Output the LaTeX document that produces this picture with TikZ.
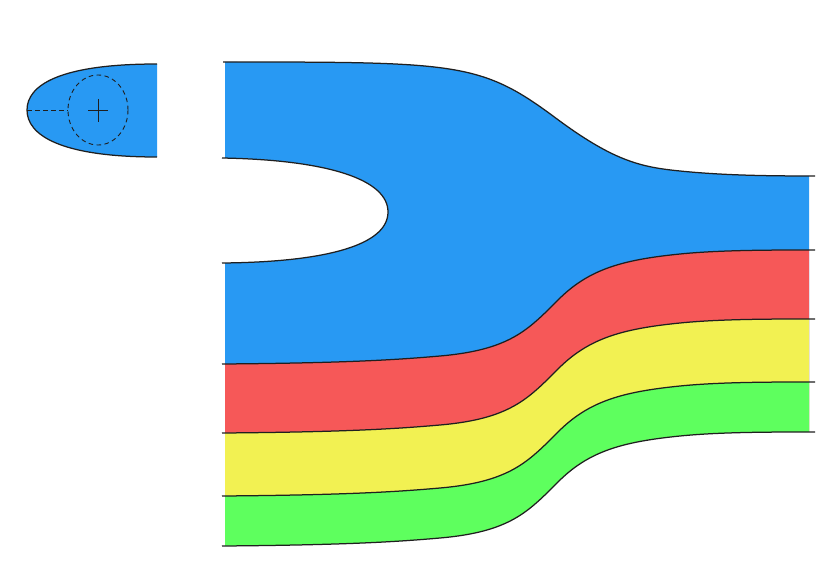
\documentclass[tikz,border=0pt]{standalone}
\begin{document}
\begin{tikzpicture}[x=1pt,y=-1pt,
  outline/.style={draw=black!88,line width=1.25pt},
  thinline/.style={draw=black!88,line width=0.9pt},
  dashline/.style={draw=black!88,line width=0.9pt,dash pattern=on 4.5pt off 3.5pt}]
\definecolor{cblue}{RGB}{40,153,243}
\definecolor{cred}{RGB}{246,88,88}
\definecolor{cyellow}{RGB}{242,241,82}
\definecolor{cgreen}{RGB}{94,255,94}
\def\basecurve{(222,546) .. controls (350,545) and (400,541.5) .. (440,538)
  .. controls (510,531.9) and (528,512) .. (558,482)
  .. controls (588,452) and (620,442) .. (680,436)
  .. controls (720,432) and (770,432) .. (815,432)}
\def\topcurve{(223,62) .. controls (455,62) and (480,62) .. (553,116)
  .. controls (613,161) and (640,167) .. (680,171)
  .. controls (720,175) and (760,176) .. (815,176)}
\useasboundingbox (0,0) rectangle (831,586);
% small shape on the left
\fill[cblue] (157,64) .. controls (60,64) and (27,85) .. (27,110)
  .. controls (27,135) and (60,157) .. (157,157) -- cycle;
\draw[outline] (157,64) .. controls (60,64) and (27,85) .. (27,110)
  .. controls (27,135) and (60,157) .. (157,157);
\draw[dashline] (98,110) ellipse [x radius=30, y radius=35];
\draw[dashline] (27,110) -- (68,110);
\draw[thinline] (88,110) -- (108,110);
\draw[thinline] (98,99) -- (98,122);
% fills of the main bands
\begin{scope}
\clip (225,0) rectangle (809,586);
\fill[cblue] \topcurve -- (840,700) -- (200,700) -- cycle;
\fill[cred,yshift=182pt] \basecurve -- (840,700) -- (200,700) -- cycle;
\fill[cyellow,yshift=113pt] \basecurve -- (840,700) -- (200,700) -- cycle;
\fill[cgreen,yshift=50pt] \basecurve -- (840,700) -- (200,700) -- cycle;
\end{scope}
\fill[white] (200,158) -- (222,158) .. controls (330,160) and (388,180) .. (388,212)
  .. controls (388,244) and (330,262) .. (222,263) -- (200,263) -- cycle;
\fill[white] \basecurve -- (840,432) -- (840,600) -- (200,600) -- (200,546) -- cycle;
% lines
\draw[outline] \topcurve;
\draw[outline] (222,158) .. controls (330,160) and (388,180) .. (388,212)
  .. controls (388,244) and (330,262) .. (222,263);
\draw[outline,yshift=182pt] \basecurve;
\draw[outline,yshift=113pt] \basecurve;
\draw[outline,yshift=50pt] \basecurve;
\draw[outline] \basecurve;
\end{tikzpicture}
\end{document}
